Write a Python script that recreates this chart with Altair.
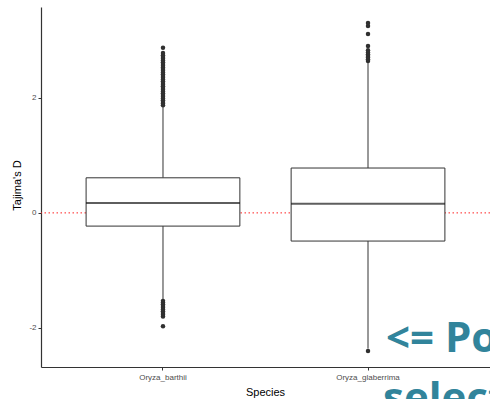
import altair as alt
import pandas as pd

# Summary statistics of Tajima's D per species
species = ["Oryza_barthii", "Oryza_glaberrima"]
q1 = [-0.23, -0.49]
median = [0.17, 0.16]
q3 = [0.61, 0.78]
whisker_low = [-1.51, -2.36]
whisker_high = [1.86, 2.61]

# Outlying values beyond the whiskers
barthii_outliers = [
    -1.97, -1.80, -1.77, -1.74, -1.71, -1.68, -1.65, -1.62, -1.59, -1.56, -1.53,
    1.87, 1.90, 1.93, 1.96, 1.99, 2.02, 2.05, 2.08, 2.11, 2.14, 2.17, 2.20,
    2.23, 2.26, 2.29, 2.32, 2.35, 2.38, 2.41, 2.44, 2.47, 2.50, 2.53, 2.56,
    2.59, 2.62, 2.65, 2.68, 2.71, 2.74, 2.78, 2.87,
]
glaberrima_outliers = [
    -2.40, 2.64, 2.67, 2.70, 2.73, 2.76, 2.79, 2.83, 2.90, 3.11, 3.25, 3.30,
]

# Overlay annotation
note_lines = ["<= Po", "select"]

stats = pd.DataFrame({
    "species": species, "q1": q1, "median": median, "q3": q3,
    "lo": whisker_low, "hi": whisker_high,
})
outliers = pd.DataFrame({
    "species": [species[0]] * len(barthii_outliers) + [species[1]] * len(glaberrima_outliers),
    "value": barthii_outliers + glaberrima_outliers,
})

FONT = "Liberation Sans"
DARK = "#333333"

x_enc = alt.X(
    "species:N",
    sort=species,
    scale=alt.Scale(paddingInner=0, paddingOuter=0.095),
    axis=alt.Axis(
        title="Species", labelFont=FONT, labelFontSize=8, labelColor="#4d4d4d",
        labelAngle=0, labelPadding=3, tickSize=3, tickColor=DARK,
        domainColor=DARK, domainWidth=1.2, titleFont=FONT, titleFontSize=11,
        titleFontWeight="normal", titleColor="black", titleX=224, titleY=25,
        titleBaseline="middle", titleAlign="center", grid=False,
    ),
)
y_scale = alt.Scale(domain=[-2.68, 3.58], nice=False, zero=False)
y_axis = alt.Axis(
    title="Tajima's D", values=[-2, 0, 2], labelExpr="'' + datum.value",
    labelFont=FONT, labelFontSize=8,
    labelColor="#4d4d4d", labelPadding=2, tickSize=3, tickColor=DARK,
    domainColor=DARK, domainWidth=1.2, titleFont=FONT, titleFontSize=11,
    titleFontWeight="normal", titleColor="black", titleAngle=-90,
    titleX=-24, titleY=178, titleAlign="center", titleBaseline="middle",
    grid=False,
)

zero_line = alt.Chart(pd.DataFrame({"y": [0]})).mark_rule(
    color="#ff2020", strokeDash=[1.5, 2.5], strokeWidth=1
).encode(y=alt.Y("y:Q", scale=y_scale, axis=y_axis))

base = alt.Chart(stats)

whisker_lower = base.mark_rule(color=DARK, strokeWidth=1).encode(
    x=x_enc, y=alt.Y("lo:Q", scale=y_scale), y2="q1:Q"
)
whisker_upper = base.mark_rule(color=DARK, strokeWidth=1).encode(
    x=x_enc, y=alt.Y("q3:Q", scale=y_scale), y2="hi:Q"
)
boxes = base.mark_bar(
    fill="white", stroke=DARK, strokeWidth=1,
    width=alt.RelativeBandSize(0.75),
).encode(x=x_enc, y=alt.Y("q1:Q", scale=y_scale), y2="q3:Q")
medians = base.mark_tick(
    color="#1a1a1a", thickness=2, size=154, orient="horizontal"
).encode(x=x_enc, y=alt.Y("median:Q", scale=y_scale))

points = alt.Chart(outliers).mark_circle(
    color="#303030", size=20, opacity=1
).encode(x=x_enc, y=alt.Y("value:Q", scale=y_scale))

note = alt.Chart(pd.DataFrame({
    "t": note_lines, "px": [345, 342], "py": [345, 405],
})).mark_text(
    font="Open Sans", fontWeight="bold", fontSize=42, color="#31849b",
    align="left", baseline="alphabetic",
).encode(
    x=alt.X("px:Q", scale=None), y=alt.Y("py:Q", scale=None), text="t:N"
)

chart = alt.layer(
    zero_line, whisker_lower, whisker_upper, boxes, medians, points, note
).properties(
    width=449, height=360,
    padding={"left": 41, "top": 7, "right": 0, "bottom": 32},
    autosize=alt.AutoSizeParams(type="none"),
    background="white",
).configure_view(stroke=None)

chart.save("out.html", embed_options={"renderer": "svg", "actions": False})
